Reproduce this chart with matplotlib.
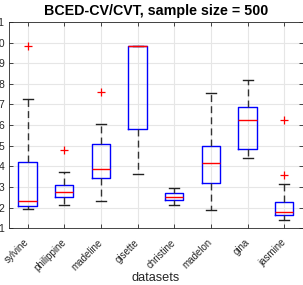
import matplotlib
matplotlib.use('Agg')
import matplotlib.pyplot as plt
from matplotlib.transforms import ScaledTranslation

datasets = ['sylvine', 'philippine', 'madeline', 'gisette',
            'christine', 'madelon', 'gina', 'jasmine']
whislo = [1.93, 2.13, 2.32, 3.62, 2.13, 1.88, 4.40, 1.40]
q1 = [2.07, 2.50, 3.42, 5.83, 2.37, 3.20, 4.83, 1.63]
med = [2.31, 2.75, 3.86, 9.85, 2.52, 4.14, 6.26, 1.79]
q3 = [4.20, 3.09, 5.07, 9.85, 2.73, 4.97, 6.90, 2.26]
whishi = [7.26, 3.73, 6.05, 9.85, 2.96, 7.54, 8.17, 3.17]
fliers = [[9.85], [4.77], [7.60], [], [], [], [], [6.26, 3.60]]

stats = []
for i in range(len(datasets)):
    stats.append({'label': datasets[i], 'whislo': whislo[i], 'q1': q1[i],
                  'med': med[i], 'q3': q3[i], 'whishi': whishi[i],
                  'fliers': fliers[i]})

plt.rcParams['font.family'] = ['Liberation Sans', 'DejaVu Sans']

fig = plt.figure(figsize=(3.03, 2.85), dpi=100)
ax = fig.add_axes([0.0307, 0.199, 0.968, 0.724])

ax.bxp(stats, widths=0.5, capwidths=0.27,
       boxprops=dict(color='#0000ff', linewidth=1.0),
       medianprops=dict(color='#ff0000', linewidth=1.0),
       whiskerprops=dict(color='#333333', linestyle=(0, (5, 3)), linewidth=1.0),
       capprops=dict(color='#222222', linewidth=1.0),
       flierprops=dict(marker='+', markeredgecolor='#ff0000', markersize=6,
                       markeredgewidth=0.9, linestyle='none'))

ax.set_xlim(0.5, 8.5)
ax.set_ylim(1, 11)
ax.set_yticks(range(1, 12))
ax.set_xticks(range(1, 9))
ax.set_xticklabels(datasets, rotation=45, ha='right', va='center',
                   rotation_mode='anchor', fontsize=7, color='#262626')
shift = ScaledTranslation(2 / 100, 0, fig.dpi_scale_trans)
for lab in ax.get_xticklabels():
    lab.set_transform(lab.get_transform() + shift)
ax.tick_params(axis='x', pad=9)
ax.tick_params(axis='y', labelsize=7.5, labelcolor='#262626')
ax.tick_params(direction='in', top=True, right=True, length=3,
               color='#262626', width=0.6)
ax.grid(True, color='#e6e6e6', linewidth=0.8)
ax.set_axisbelow(True)
for s in ax.spines.values():
    s.set_color('#262626')
    s.set_linewidth(0.6)

ax.set_title('BCED-CV/CVT, sample size = 500', fontsize=10.3,
             fontweight='bold', pad=5)
ax.set_xlabel('datasets', fontsize=9.2, color='#262626')
ax.xaxis.set_label_coords(0.5, -0.21)

fig.savefig('out.png', dpi=100)
